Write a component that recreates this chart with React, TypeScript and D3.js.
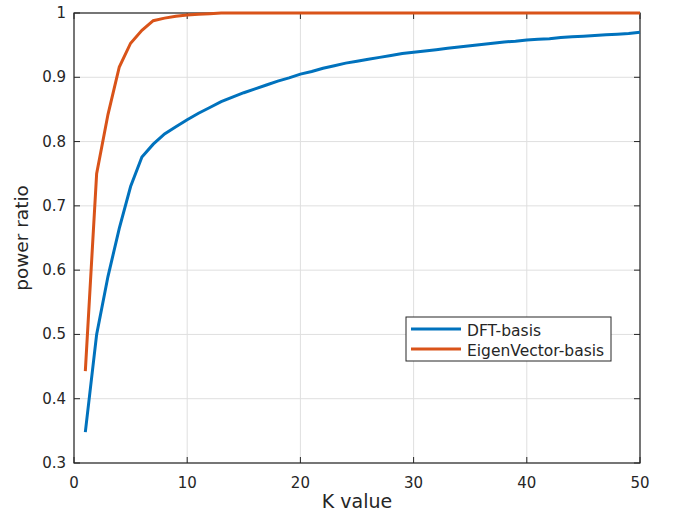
import React from "react";
import * as d3 from "d3";

// K = 1..50
const kValues = d3.range(1, 51);
const dftBasis = [
  0.348, 0.50, 0.59, 0.665, 0.73, 0.776, 0.796, 0.812, 0.823, 0.834,
  0.844, 0.853, 0.862, 0.869, 0.876, 0.882, 0.888, 0.894, 0.899, 0.905,
  0.909, 0.914, 0.918, 0.922, 0.925, 0.928, 0.931, 0.934, 0.937, 0.939,
  0.941, 0.943, 0.945, 0.947, 0.949, 0.951, 0.953, 0.955, 0.956, 0.958,
  0.959, 0.960, 0.962, 0.963, 0.964, 0.965, 0.966, 0.967, 0.968, 0.970,
];
const eigenBasis = [
  0.443, 0.75, 0.842, 0.916, 0.953, 0.973, 0.988, 0.992, 0.995, 0.997,
  0.998, 0.999, 1.0, 1.0, 1.0, 1.0, 1.0, 1.0, 1.0, 1.0,
  1.0, 1.0, 1.0, 1.0, 1.0, 1.0, 1.0, 1.0, 1.0, 1.0,
  1.0, 1.0, 1.0, 1.0, 1.0, 1.0, 1.0, 1.0, 1.0, 1.0,
  1.0, 1.0, 1.0, 1.0, 1.0, 1.0, 1.0, 1.0, 1.0, 1.0,
];
const xTicks = [0, 10, 20, 30, 40, 50];
const yTicks = [0.3, 0.4, 0.5, 0.6, 0.7, 0.8, 0.9, 1];
const seriesNames = ["DFT-basis", "EigenVector-basis"];
const colors = ["#0072BD", "#D95319"];

const App = () => {
  const width = 675, height = 516;
  const margin = { top: 13, right: 35, bottom: 53, left: 74 };
  const x = d3.scaleLinear().domain([0, 50]).range([margin.left, width - margin.right]);
  const y = d3.scaleLinear().domain([0.3, 1]).range([height - margin.bottom, margin.top]);
  const line = d3.line<number>().x((d, i) => x(kValues[i])).y(d => y(d));
  const axisColor = "#262626";
  const font = "DejaVu Sans, sans-serif";
  const x0 = x(0), x1 = x(50), y0 = y(0.3), y1 = y(1);
  const tk = 6;
  const lgX = 406, lgY = 317;

  return (
    <svg width={width} height={height} style={{ position: "absolute", left: 0, top: 0, background: "#fff" }}>
      {/* grid */}
      {xTicks.map(t => (
        <line key={"gx" + t} x1={x(t)} x2={x(t)} y1={y0} y2={y1} stroke="#dfdfdf" strokeWidth={1} />
      ))}
      {yTicks.map(t => (
        <line key={"gy" + t} x1={x0} x2={x1} y1={y(t)} y2={y(t)} stroke="#dfdfdf" strokeWidth={1} />
      ))}
      {/* box and ticks */}
      <rect x={x0} y={y1} width={x1 - x0} height={y0 - y1} fill="none" stroke={axisColor} strokeWidth={1.2} />
      {xTicks.map(t => (
        <g key={"tx" + t}>
          <line x1={x(t)} x2={x(t)} y1={y0} y2={y0 - tk} stroke={axisColor} />
          <line x1={x(t)} x2={x(t)} y1={y1} y2={y1 + tk} stroke={axisColor} />
          <text x={x(t)} y={y0 + 25} textAnchor="middle" fontSize={15} fontFamily={font} fill={axisColor}>{t}</text>
        </g>
      ))}
      {yTicks.map(t => (
        <g key={"ty" + t}>
          <line x1={x0} x2={x0 + tk} y1={y(t)} y2={y(t)} stroke={axisColor} />
          <line x1={x1} x2={x1 - tk} y1={y(t)} y2={y(t)} stroke={axisColor} />
          <text x={x0 - 8} y={y(t) + 5} textAnchor="end" fontSize={15} fontFamily={font} fill={axisColor}>{d3.format("")(+t.toFixed(1))}</text>
        </g>
      ))}
      {/* series */}
      <path d={line(dftBasis) || ""} fill="none" stroke={colors[0]} strokeWidth={3} />
      <path d={line(eigenBasis) || ""} fill="none" stroke={colors[1]} strokeWidth={3} />
      {/* labels */}
      <text x={(x0 + x1) / 2} y={508} textAnchor="middle" fontSize={19} fontFamily={font} fill={axisColor}>K value</text>
      <text transform={`translate(28, ${(y0 + y1) / 2}) rotate(-90)`} textAnchor="middle" fontSize={18.5} fontFamily={font} fill={axisColor}>power ratio</text>
      {/* legend */}
      <rect x={lgX} y={lgY} width={205} height={44} fill="#fff" stroke={axisColor} strokeWidth={1} />
      {seriesNames.map((s, i) => (
        <g key={s}>
          <line x1={lgX + 5} x2={lgX + 55} y1={lgY + 12 + i * 20} y2={lgY + 12 + i * 20} stroke={colors[i]} strokeWidth={3} />
          <text x={lgX + 61} y={lgY + 18.5 + i * 20} fontSize={15.5} fontFamily={font} fill={axisColor}>{s}</text>
        </g>
      ))}
    </svg>
  );
};

export default App;
